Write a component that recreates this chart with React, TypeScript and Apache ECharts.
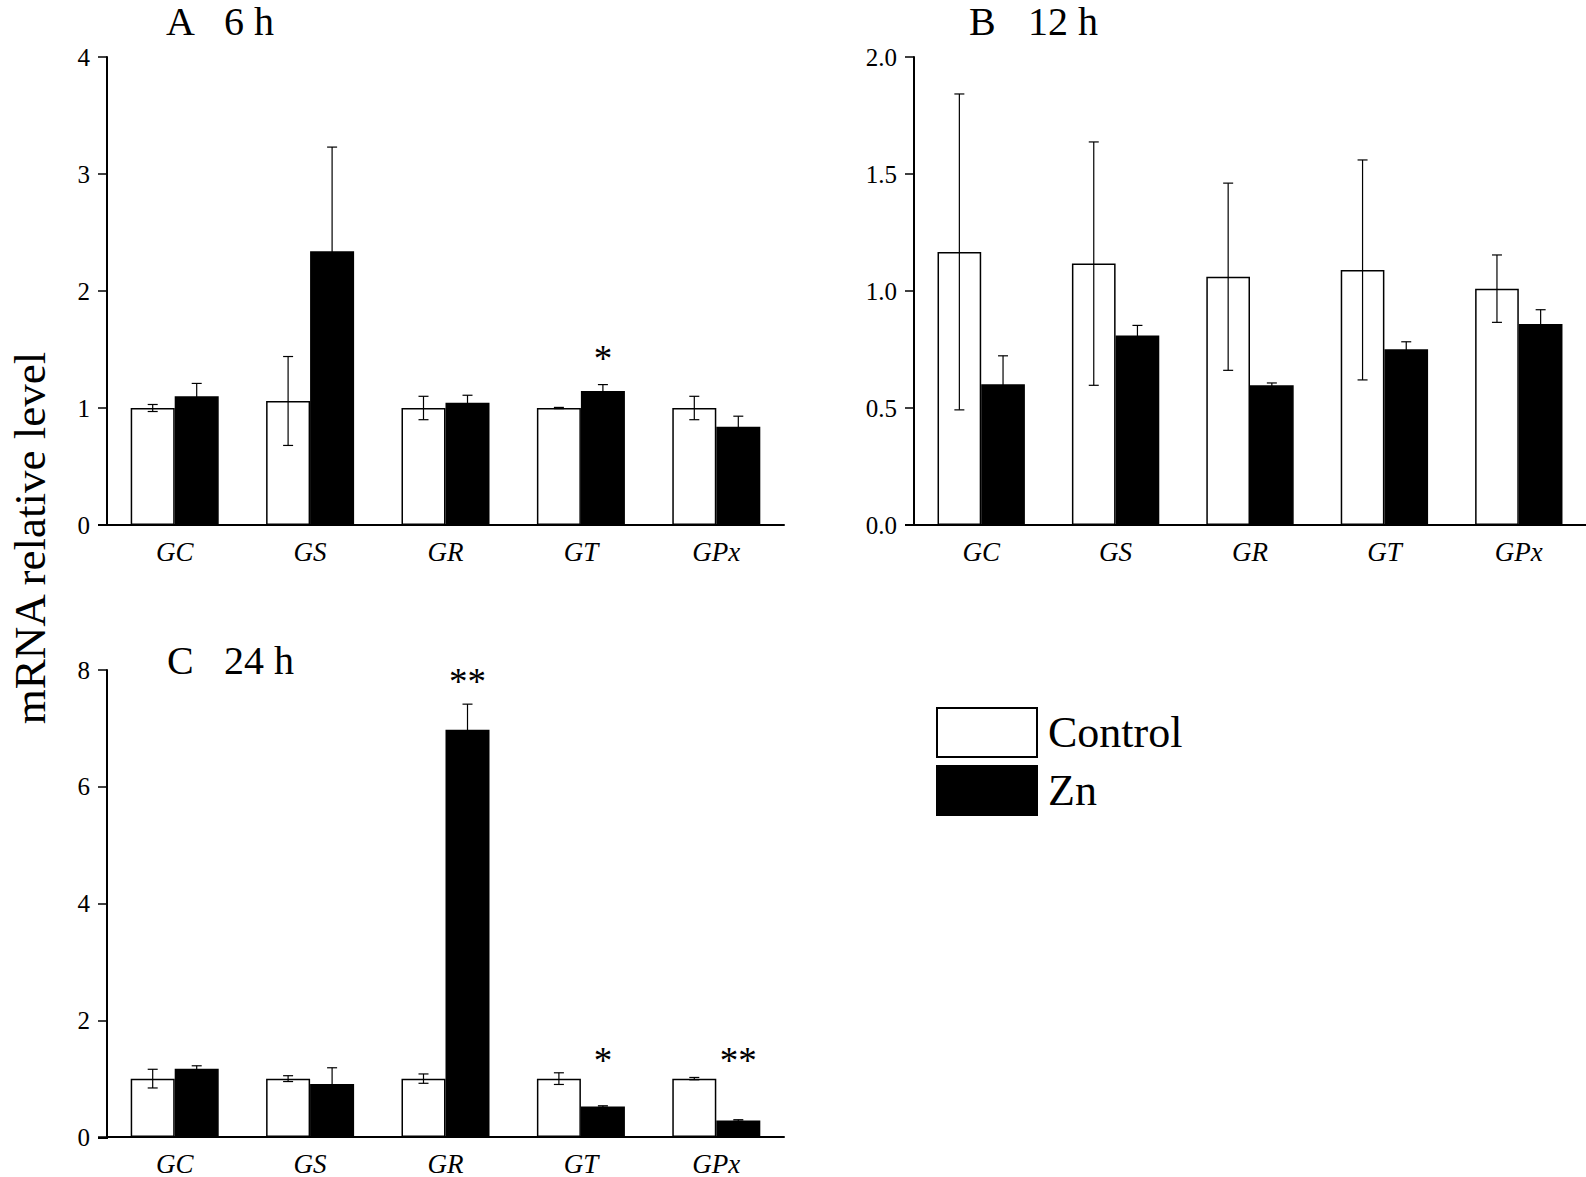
import React, { useEffect, useRef } from "react";
import * as echarts from "echarts";

const categories = ["GC", "GS", "GR", "GT", "GPx"];

// Panel A — 6 h
const ctrlA = [1.0, 1.06, 1.0, 1.0, 1.0];
const errCtrlA = [0.03, 0.38, 0.1, 0.005, 0.1];
const znA = [1.1, 2.34, 1.044, 1.145, 0.84];
const errZnA = [0.11, 0.89, 0.065, 0.055, 0.09];
const sigA = ["", "", "", "*", ""];
const sigYA = [0, 0, 0, 1.42, 0];

// Panel B — 12 h
const ctrlB = [1.167, 1.117, 1.061, 1.09, 1.01];
const errCtrlB = [0.675, 0.52, 0.4, 0.47, 0.144];
const znB = [0.601, 0.81, 0.597, 0.751, 0.859];
const errZnB = [0.122, 0.043, 0.01, 0.032, 0.061];
const sigB = ["", "", "", "", ""];
const sigYB = [0, 0, 0, 0, 0];

// Panel C — 24 h
const ctrlC = [1.0, 1.0, 1.0, 1.0, 1.0];
const errCtrlC = [0.16, 0.05, 0.08, 0.1, 0.02];
const znC = [1.17, 0.906, 6.975, 0.522, 0.283];
const errZnC = [0.05, 0.28, 0.44, 0.013, 0.013];
const sigC = ["", "", "**", "*", "**"];
const sigYC = [0, 0, 7.8, 1.31, 1.31];

const ticksA = { min: 0, max: 4, interval: 1 };
const ticksB = { min: 0, max: 2, interval: 0.5 };
const ticksC = { min: 0, max: 8, interval: 2 };

const FONT = "'Liberation Serif', 'Times New Roman', serif";
const BAR_FRAC = 0.65;

function errRender(sign: number) {
  return (params: any, api: any) => {
    const i = api.value(0);
    const v = api.value(1);
    const e = api.value(2);
    const band = api.size([1, 0])[0];
    const off = (sign * band * BAR_FRAC) / 4;
    const top = api.coord([i, v + e]);
    const bot = api.coord([i, v - e]);
    const x = top[0] + off;
    const cap = 5;
    const st = { stroke: "#000", lineWidth: 1.2 };
    return {
      type: "group",
      children: [
        { type: "line", shape: { x1: x, y1: top[1], x2: x, y2: bot[1] }, style: st },
        { type: "line", shape: { x1: x - cap, y1: top[1], x2: x + cap, y2: top[1] }, style: st },
        { type: "line", shape: { x1: x - cap, y1: bot[1], x2: x + cap, y2: bot[1] }, style: st },
      ],
    };
  };
}

function starRender(labels: string[]) {
  return (params: any, api: any) => {
    const i = api.value(0);
    const y = api.value(1);
    const txt = labels[params.dataIndex] || "";
    const band = api.size([1, 0])[0];
    const off = (band * BAR_FRAC) / 4;
    const p = api.coord([i, y]);
    return {
      type: "text",
      x: p[0] + off,
      y: p[1],
      style: {
        text: txt,
        fontSize: 37,
        fontFamily: FONT,
        fill: "#000",
        align: "center",
        verticalAlign: "middle",
      },
    };
  };
}

export default function App() {
  const ref = useRef<HTMLDivElement>(null);

  useEffect(() => {
    if (!ref.current) return;
    const chart = echarts.init(ref.current, null, { renderer: "svg" });

    const grids = [
      { left: 107, top: 57, width: 677, height: 468 },
      { left: 914, top: 57, width: 672, height: 468 },
      { left: 107, top: 670, width: 677, height: 468 },
    ];
    const panels = [
      { ctrl: ctrlA, ec: errCtrlA, zn: znA, ez: errZnA, sig: sigA, sigY: sigYA, t: ticksA, dec: 0 },
      { ctrl: ctrlB, ec: errCtrlB, zn: znB, ez: errZnB, sig: sigB, sigY: sigYB, t: ticksB, dec: 1 },
      { ctrl: ctrlC, ec: errCtrlC, zn: znC, ez: errZnC, sig: sigC, sigY: sigYC, t: ticksC, dec: 0 },
    ];

    const xAxis = panels.map((_, k) => ({
      type: "category",
      gridIndex: k,
      data: categories,
      axisLine: { lineStyle: { color: "#000", width: 2 } },
      axisTick: { alignWithLabel: true, length: 9, lineStyle: { color: "#000", width: 1.5 } },
      axisLabel: { color: "#000", fontSize: 27, fontFamily: FONT, fontStyle: "italic", margin: 13 },
    }));
    const yAxis = panels.map((p, k) => ({
      type: "value",
      gridIndex: k,
      min: p.t.min,
      max: p.t.max,
      interval: p.t.interval,
      splitLine: { show: false },
      axisLine: { show: true, lineStyle: { color: "#000", width: 2 } },
      axisTick: { show: true, length: 9, lineStyle: { color: "#000", width: 1.5 } },
      axisLabel: {
        color: "#000",
        fontSize: 25,
        fontFamily: FONT,
        margin: 17,
        formatter: (v: number) => v.toFixed(p.dec),
      },
    }));

    const series: any[] = [];
    panels.forEach((p, k) => {
      series.push({
        name: "Control",
        type: "bar",
        xAxisIndex: k,
        yAxisIndex: k,
        data: p.ctrl,
        barGap: "0%",
        barCategoryGap: "35%",
        itemStyle: { color: "#fff", borderColor: "#000", borderWidth: 1.5 },
      });
      series.push({
        name: "Zn",
        type: "bar",
        xAxisIndex: k,
        yAxisIndex: k,
        data: p.zn,
        barGap: "0%",
        barCategoryGap: "35%",
        itemStyle: { color: "#000", borderColor: "#000", borderWidth: 1.5 },
      });
      series.push({
        type: "custom",
        xAxisIndex: k,
        yAxisIndex: k,
        z: 10,
        silent: true,
        renderItem: errRender(-1),
        data: p.ctrl.map((v, i) => [i, v, p.ec[i]]),
      });
      series.push({
        type: "custom",
        xAxisIndex: k,
        yAxisIndex: k,
        z: 10,
        silent: true,
        renderItem: errRender(1),
        data: p.zn.map((v, i) => [i, v, p.ez[i]]),
      });
      const idx = p.sig.map((s, i) => i).filter((i) => p.sig[i] !== "");
      if (idx.length) {
        series.push({
          type: "custom",
          xAxisIndex: k,
          yAxisIndex: k,
          z: 11,
          silent: true,
          renderItem: starRender(idx.map((i) => p.sig[i])),
          data: idx.map((i) => [i, p.sigY[i]]),
        });
      }
    });

    const titleStyle = { fontSize: 40, fontFamily: FONT, fill: "#000", verticalAlign: "middle" };
    const graphic: any[] = [
      { type: "text", x: 166, y: 21, style: { ...titleStyle, text: "A" } },
      { type: "text", x: 224, y: 21, style: { ...titleStyle, text: "6 h" } },
      { type: "text", x: 969, y: 21, style: { ...titleStyle, text: "B" } },
      { type: "text", x: 1028, y: 21, style: { ...titleStyle, text: "12 h" } },
      { type: "text", x: 167, y: 660, style: { ...titleStyle, text: "C" } },
      { type: "text", x: 224, y: 660, style: { ...titleStyle, text: "24 h" } },
      {
        type: "text",
        x: 30,
        y: 538,
        rotation: Math.PI / 2,
        style: {
          text: "mRNA relative level",
          fontSize: 45,
          fontFamily: FONT,
          fill: "#000",
          align: "center",
          verticalAlign: "middle",
        },
      },
      { type: "line", shape: { x1: 98, y1: 525, x2: 108, y2: 525 }, style: { stroke: "#000", lineWidth: 2 } },
      { type: "line", shape: { x1: 905, y1: 525, x2: 915, y2: 525 }, style: { stroke: "#000", lineWidth: 2 } },
      { type: "line", shape: { x1: 98, y1: 1138, x2: 108, y2: 1138 }, style: { stroke: "#000", lineWidth: 2 } },
    ];

    chart.setOption({
      animation: false,
      backgroundColor: "#fff",
      grid: grids,
      xAxis,
      yAxis,
      series,
      graphic,
      legend: {
        data: ["Control", "Zn"],
        orient: "vertical",
        left: 936,
        top: 707,
        padding: 0,
        icon: "rect",
        itemWidth: 100,
        itemHeight: 49,
        itemGap: 7,
        selectedMode: false,
        textStyle: { fontSize: 44, fontFamily: FONT, color: "#000", padding: [0, 0, 0, 6] },
      },
    });

    return () => chart.dispose();
  }, []);

  return (
    <div
      ref={ref}
      style={{ position: "absolute", left: 0, top: 0, width: 1586, height: 1177, background: "#fff" }}
    />
  );
}
